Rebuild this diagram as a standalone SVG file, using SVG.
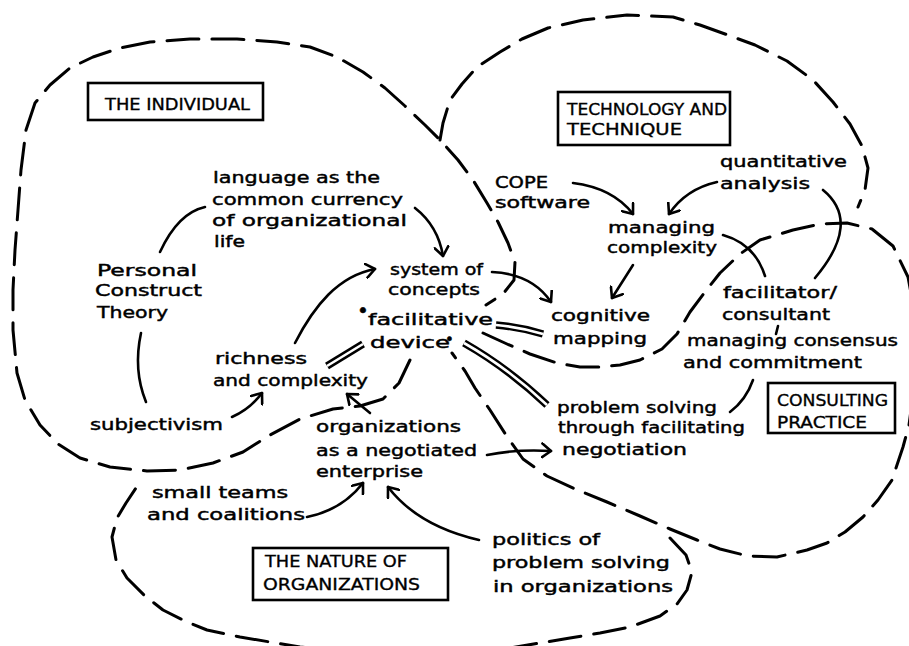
<svg xmlns="http://www.w3.org/2000/svg" width="909" height="646" viewBox="0 0 909 646">
  <style>
    .t { font-family: "DejaVu Sans", "Liberation Sans", sans-serif; font-size: 16px; fill: #000; stroke: #000; stroke-width: 0.45px; }
    .cap { font-family: "DejaVu Sans", "Liberation Sans", sans-serif; font-size: 16px; fill: #000; stroke: #000; stroke-width: 0.35px; }
    .box { fill: none; stroke: #000; stroke-width: 2.6; }
    .zone { fill: none; stroke: #000; stroke-width: 3; stroke-dasharray: 32 13; stroke-linecap: round; stroke-linejoin: round; }
    .link { fill: none; stroke: #000; stroke-width: 2.6; stroke-linecap: round; }
    .arrow { marker-end: url(#head); }
    .dbl-out { fill: none; stroke: #000; stroke-width: 7.5; }
    .dbl-in { fill: none; stroke: #fff; stroke-width: 2.6; }
  </style>
  <defs>
    <marker id="head" viewBox="0 0 12 16" refX="10" refY="8" markerWidth="12" markerHeight="16" markerUnits="userSpaceOnUse" orient="auto">
      <path d="M1,1 L10,8 L1,15" fill="none" stroke="#000" stroke-width="2.6" stroke-linecap="round" stroke-linejoin="round"/>
    </marker>
  </defs>
  <rect width="909" height="646" fill="#fff"/>

  <!-- dashed zone boundaries -->
  <g id="zones">
    <path id="zone-individual" class="zone" d="M410,360 L399,383 L383,399 L360,406 L333,409 L300,419 L270,435 L243,452 L213,463 L180,470 L147,471 L110,467 L80,458 L58,444 L40,425 L25,400 L17,373 L13,330 L13,290 L15,250 L18,210 L21,170 L26,130 L35,103 L50,85 L70,68 L93,57 L120,48 L150,42 L190,39 L237,39 L277,42 L310,47 L337,57 L363,72 L385,88 L405,106 L425,125 L442,142 L458,160 L473,180 L487,203 L498,222 L508,243 L515,262 L514,280 L503,294 L486,305"/>
    <path id="zone-technology" class="zone" d="M440,140 L443,123 L450,100 L462,84 L477,67 L500,52 L522,39 L548,28 L583,20 L627,15 L673,17 L700,25 L725,34 L755,45 L787,61 L813,80 L833,102 L850,124 L862,146 L868,168 L865,190 L858,207"/>
    <path id="zone-consulting" class="zone" d="M483,333 L507,344 L530,354 L557,363 L580,367 L600,367 L620,365 L640,360 L662,349 L677,334 L690,312 L705,292 L720,273 L740,254 L760,240 L793,230 L820,224 L847,223 L872,229 L893,246 L908,277 L916,320 L915,380 L909,425 L903,447 L892,480 L878,500 L863,517 L845,532 L827,543 L807,550 L777,557 L748,556 L720,549 L697,540 L670,529 L640,516 L607,502 L575,489 L547,476 L523,459 L506,435 L490,410 L475,388 L465,371 L452,353"/>
    <path id="zone-organizations" class="zone" d="M670,538 L686,555 L692,572 L687,590 L677,604 L660,616 L630,627 L600,633 L570,638 L540,643 L510,648 L450,653 L350,652 L300,647 L270,642 L240,637 L207,630 L185,621 L163,610 L145,596 L127,578 L116,560 L112,537 L117,518 L126,503 L136,488"/>
  </g>

  <!-- connectors -->
  <g id="connectors">
    <path class="link" d="M160,252 Q178,213 205,207"/>
    <path class="link arrow" d="M415,208 Q438,226 443,256"/>
    <path class="link arrow" d="M295,343 C314,306 338,276 375,269"/>
    <path class="link" d="M141,333 Q133,370 146,402"/>
    <path class="link arrow" d="M232,417 Q250,409 262,393"/>
    <path class="link arrow" d="M370,413 L347,394"/>
    <path class="link arrow" d="M307,517 Q342,510 363,483"/>
    <path class="link arrow" d="M479,540 Q418,526 388,487"/>
    <path class="link arrow" d="M487,455 Q516,449 551,451"/>
    <path class="link arrow" d="M492,272 Q532,274 551,302"/>
    <path class="link arrow" d="M573,183 Q613,188 633,214"/>
    <path class="link arrow" d="M717,182 Q686,189 669,214"/>
    <path class="link arrow" d="M633,265 L612,298"/>
    <path class="link" d="M723,235 Q755,244 765,276"/>
    <path class="link" d="M823,190 Q862,222 815,278"/>
    <path class="link" d="M778,326 L776,334"/>
    <path class="link" d="M753,380 Q746,400 730,412"/>
    <!-- double links from the facilitative device -->
    <path class="dbl-out" d="M327,366 L363,344"/>
    <path class="dbl-in" d="M327,366 L363,344"/>
    <path class="dbl-out" d="M496,325 Q520,327 543,334"/>
    <path class="dbl-in" d="M496,325 Q520,327 543,334"/>
    <path class="dbl-out" d="M464,343 Q508,368 547,405"/>
    <path class="dbl-in" d="M464,343 Q508,368 547,405"/>
  </g>

  <!-- headings -->
  <g id="the-individual">
    <rect class="box" x="88" y="83" width="175" height="37"/>
    <text class="cap" x="105" y="110" textLength="145" lengthAdjust="spacingAndGlyphs">THE INDIVIDUAL</text>
  </g>
  <g id="technology-and-technique">
    <rect class="box" x="558" y="92" width="172" height="53"/>
    <text class="cap" x="567" y="115" textLength="160" lengthAdjust="spacingAndGlyphs">TECHNOLOGY AND</text>
    <text class="cap" x="567" y="135" textLength="115" lengthAdjust="spacingAndGlyphs">TECHNIQUE</text>
  </g>
  <g id="consulting-practice">
    <rect class="box" x="768" y="383" width="127" height="50"/>
    <text class="cap" x="777" y="406" textLength="111" lengthAdjust="spacingAndGlyphs">CONSULTING</text>
    <text class="cap" x="777" y="428" textLength="90" lengthAdjust="spacingAndGlyphs">PRACTICE</text>
  </g>
  <g id="the-nature-of-organizations">
    <rect class="box" x="253" y="548" width="195" height="52"/>
    <text class="cap" x="265" y="567" textLength="142" lengthAdjust="spacingAndGlyphs">THE NATURE OF</text>
    <text class="cap" x="263" y="590" textLength="157" lengthAdjust="spacingAndGlyphs">ORGANIZATIONS</text>
  </g>

  <!-- concepts -->
  <g id="language">
    <text class="t" x="213" y="183" textLength="167" lengthAdjust="spacingAndGlyphs">language as the</text>
    <text class="t" x="212" y="205" textLength="191" lengthAdjust="spacingAndGlyphs">common currency</text>
    <text class="t" x="212" y="226" textLength="195" lengthAdjust="spacingAndGlyphs">of organizational</text>
    <text class="t" x="214" y="247" textLength="31" lengthAdjust="spacingAndGlyphs">life</text>
  </g>
  <g id="personal-construct-theory">
    <text class="t" x="97" y="276" textLength="100" lengthAdjust="spacingAndGlyphs">Personal</text>
    <text class="t" x="95" y="296" textLength="107" lengthAdjust="spacingAndGlyphs">Construct</text>
    <text class="t" x="97" y="318" textLength="71" lengthAdjust="spacingAndGlyphs">Theory</text>
  </g>
  <g id="system-of-concepts">
    <text class="t" x="390" y="275" textLength="93" lengthAdjust="spacingAndGlyphs">system of</text>
    <text class="t" x="388" y="295" textLength="92" lengthAdjust="spacingAndGlyphs">concepts</text>
  </g>
  <g id="facilitative-device">
    <text class="t" x="357" y="325"><tspan dy="-8" font-size="20">•</tspan><tspan x="368" dy="8" textLength="125" lengthAdjust="spacingAndGlyphs">facilitative</tspan></text>
    <text class="t" x="370" y="348"><tspan textLength="80" lengthAdjust="spacingAndGlyphs">device</tspan><tspan x="445" dy="-3" font-size="15">•</tspan></text>
  </g>
  <g id="cognitive-mapping">
    <text class="t" x="551" y="321" textLength="99" lengthAdjust="spacingAndGlyphs">cognitive</text>
    <text class="t" x="553" y="344" textLength="94" lengthAdjust="spacingAndGlyphs">mapping</text>
  </g>
  <g id="cope-software">
    <text class="t" x="495" y="188" textLength="53" lengthAdjust="spacingAndGlyphs">COPE</text>
    <text class="t" x="495" y="208" textLength="95" lengthAdjust="spacingAndGlyphs">software</text>
  </g>
  <g id="quantitative-analysis">
    <text class="t" x="720" y="167" textLength="127" lengthAdjust="spacingAndGlyphs">quantitative</text>
    <text class="t" x="720" y="189" textLength="90" lengthAdjust="spacingAndGlyphs">analysis</text>
  </g>
  <g id="managing-complexity">
    <text class="t" x="608" y="233" textLength="107" lengthAdjust="spacingAndGlyphs">managing</text>
    <text class="t" x="607" y="253" textLength="110" lengthAdjust="spacingAndGlyphs">complexity</text>
  </g>
  <g id="facilitator-consultant">
    <text class="t" x="723" y="298" textLength="114" lengthAdjust="spacingAndGlyphs">facilitator/</text>
    <text class="t" x="722" y="320" textLength="108" lengthAdjust="spacingAndGlyphs">consultant</text>
  </g>
  <g id="managing-consensus">
    <text class="t" x="687" y="346" textLength="211" lengthAdjust="spacingAndGlyphs">managing consensus</text>
    <text class="t" x="683" y="368" textLength="179" lengthAdjust="spacingAndGlyphs">and commitment</text>
  </g>
  <g id="problem-solving-negotiation">
    <text class="t" x="557" y="413" textLength="160" lengthAdjust="spacingAndGlyphs">problem solving</text>
    <text class="t" x="558" y="433" textLength="187" lengthAdjust="spacingAndGlyphs">through facilitating</text>
    <text class="t" x="562" y="455" textLength="125" lengthAdjust="spacingAndGlyphs">negotiation</text>
  </g>
  <g id="richness-and-complexity">
    <text class="t" x="215" y="364" textLength="92" lengthAdjust="spacingAndGlyphs">richness</text>
    <text class="t" x="213" y="386" textLength="155" lengthAdjust="spacingAndGlyphs">and complexity</text>
  </g>
  <g id="subjectivism">
    <text class="t" x="90" y="430" textLength="133" lengthAdjust="spacingAndGlyphs">subjectivism</text>
  </g>
  <g id="negotiated-enterprise">
    <text class="t" x="316" y="432" textLength="145" lengthAdjust="spacingAndGlyphs">organizations</text>
    <text class="t" x="316" y="456" textLength="161" lengthAdjust="spacingAndGlyphs">as a negotiated</text>
    <text class="t" x="316" y="477" textLength="107" lengthAdjust="spacingAndGlyphs">enterprise</text>
  </g>
  <g id="small-teams">
    <text class="t" x="152" y="498" textLength="136" lengthAdjust="spacingAndGlyphs">small teams</text>
    <text class="t" x="147" y="520" textLength="158" lengthAdjust="spacingAndGlyphs">and coalitions</text>
  </g>
  <g id="politics">
    <text class="t" x="492" y="545" textLength="108" lengthAdjust="spacingAndGlyphs">politics of</text>
    <text class="t" x="492" y="568" textLength="178" lengthAdjust="spacingAndGlyphs">problem solving</text>
    <text class="t" x="493" y="592" textLength="180" lengthAdjust="spacingAndGlyphs">in organizations</text>
  </g>
</svg>
